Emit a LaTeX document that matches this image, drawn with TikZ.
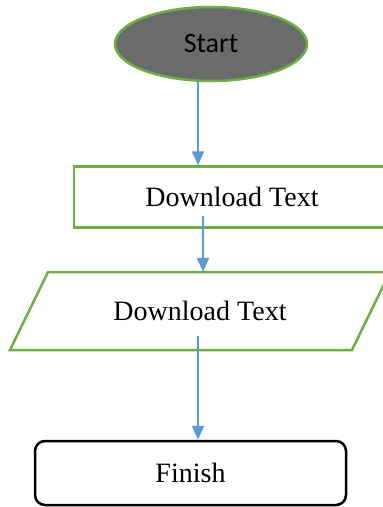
\documentclass[tikz,border=0pt]{standalone}
\usepackage{fontspec}
\setmainfont{Liberation Serif}
\newfontfamily\startfont{Carlito}
\usetikzlibrary{shapes.geometric,arrows.meta}
\definecolor{boxgreen}{HTML}{70AD47}
\definecolor{flowblue}{HTML}{5B9BD5}
\definecolor{startgray}{HTML}{6B6B6B}
\tikzset{
  flow/.style={draw=flowblue, line width=2.2pt, -{Triangle[width=12pt,length=14pt]}},
  greenbox/.style={draw=boxgreen, line width=2.5pt, inner sep=0pt, font=\fontsize{28}{30}\selectfont}
}
\begin{document}
\begin{tikzpicture}[x=1pt, y=-1pt]
        \clip (0,0) rectangle (383,507);
        \node (start) [greenbox, ellipse, fill=startgray, minimum width=192pt, minimum height=74pt, font=\startfont\fontsize{28}{30}\selectfont] at (211,44) {Start};
        \node (dl) [greenbox, rectangle, minimum width=316pt, minimum height=61pt] at (232,197) {Download Text};
        % input box, drawn as a parallelogram round its text node
        \node (dlin) [font=\fontsize{28}{30}\selectfont, minimum height=78pt] at (200,311) {Download Text};
        \draw[boxgreen, line width=2.5pt] (48,272) -- (390,272) -- (352,350) -- (10,350) -- cycle;
        \node (finish) [draw, line width=2.5pt, rounded corners=10pt, minimum width=311pt, minimum height=64pt, font=\fontsize{28}{30}\selectfont] at (190.5,473) {Finish};

        \draw[flow] ([xshift=-13pt]start.south) -- ([xshift=-34pt]dl.north);
        \draw[flow] ([xshift=-29pt,yshift=-19pt]dl.center) -- ([xshift=3pt]dlin.north);
        \draw[flow] ([xshift=-2pt,yshift=-25pt]dlin.center) -- ([xshift=7.5pt]finish.north);
    \end{tikzpicture}
\end{document}
